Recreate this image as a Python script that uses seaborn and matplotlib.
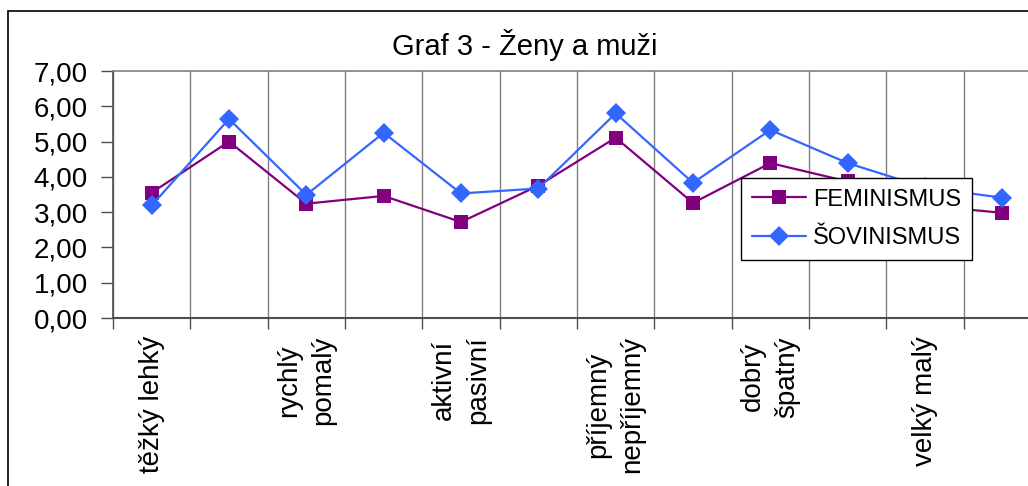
import numpy as np
import pandas as pd
import matplotlib
matplotlib.use('Agg')
import matplotlib.pyplot as plt
import matplotlib.ticker as mticker
from matplotlib.patches import Rectangle
import seaborn as sns

# hodnoty
kategorie = ['těžký lehký', '', 'rychlý\npomalý', '', 'aktivní\npasivní', '',
             'příjemný\nnepříjemný', '', 'dobrý\nšpatný', '', 'velký malý', '']
feminismus = [3.55, 5.00, 3.24, 3.46, 2.72, 3.75, 5.11, 3.26, 4.39, 3.87, 3.19, 2.98]
sovinismus = [3.19, 5.64, 3.49, 5.25, 3.53, 3.67, 5.80, 3.83, 5.33, 4.39, 3.70, 3.41]
y_ticks = [0, 1, 2, 3, 4, 5, 6, 7]

sns.set_style('white')
plt.rcParams['font.family'] = ['Liberation Sans', 'DejaVu Sans']
plt.rcParams['text.color'] = 'black'
plt.rcParams['xtick.labelcolor'] = 'black'
plt.rcParams['ytick.labelcolor'] = 'black'

pozice = np.arange(len(kategorie))
df = pd.DataFrame({'pozice': pozice, 'FEMINISMUS': feminismus, 'ŠOVINISMUS': sovinismus})

fig = plt.figure(figsize=(10.28, 4.86), dpi=100)
ax = fig.add_axes([113 / 1028, 1 - 318 / 486, 928 / 1028, 247 / 486])

sns.lineplot(data=df, x='pozice', y='FEMINISMUS', ax=ax, color='#800080', marker='s',
             markersize=10.5, markeredgewidth=0, linewidth=1.6, label='FEMINISMUS')
sns.lineplot(data=df, x='pozice', y='ŠOVINISMUS', ax=ax, color='#3366FF', marker='D',
             markersize=10, markeredgewidth=0, linewidth=1.6, label='ŠOVINISMUS')

ax.set_xlim(-0.5, len(kategorie) - 0.5)
ax.set_ylim(0, 7)
ax.set_xlabel('')
ax.set_ylabel('')

# hranice kategorií = hlavní značky + svislá mřížka
ax.xaxis.set_major_locator(mticker.FixedLocator(np.arange(-0.5, len(kategorie), 1.0)))
ax.xaxis.set_major_formatter(mticker.NullFormatter())
ax.xaxis.set_minor_locator(mticker.FixedLocator(pozice))
ax.xaxis.set_minor_formatter(mticker.FixedFormatter(kategorie))
ax.tick_params(axis='x', which='major', direction='out', length=8, width=1, color='#4d4d4d', bottom=True)
ax.tick_params(axis='x', which='minor', length=0, pad=13, labelsize=20, labelrotation=90,
               bottom=True, labelcolor='black')
for t in ax.get_xticklabels(minor=True):
    t.set_linespacing(1.4)
    t.set_multialignment('center')

ax.yaxis.set_major_locator(mticker.FixedLocator(y_ticks))
ax.yaxis.set_major_formatter(mticker.FuncFormatter(lambda v, p: f'{v:.2f}'.replace('.', ',')))
ax.tick_params(axis='y', direction='out', length=9, width=1, color='#4d4d4d', pad=9,
               labelsize=20, left=True, labelcolor='black')

ax.grid(False)
ax.xaxis.grid(True, which='major', color='#808080', linewidth=1)
ax.spines['top'].set_color('#808080')
ax.spines['top'].set_linewidth(1.2)
ax.spines['right'].set_visible(False)
ax.spines['left'].set_color('#4d4d4d')
ax.spines['bottom'].set_color('#4d4d4d')
ax.spines['left'].set_linewidth(1.2)
ax.spines['bottom'].set_linewidth(1.5)

leg = ax.legend(loc='upper left', bbox_to_anchor=(0.677, 0.567), fontsize=17, frameon=True,
                fancybox=False, framealpha=1, edgecolor='black', borderpad=0.45,
                handlelength=2.3, handletextpad=0.3, labelspacing=0.7, borderaxespad=0)
leg.get_frame().set_linewidth(1)
for t in leg.get_texts():
    t.set_color('black')

fig.text(525 / 1028, 1 - 55 / 486, 'Graf 3 - Ženy a muži', ha='center', va='baseline',
         fontsize=21, color='black')

# rámeček celého grafu
fig.patches.append(Rectangle((8 / 1028, -0.1), 1.1, 1 - 11 / 486 + 0.1, transform=fig.transFigure,
                             fill=False, edgecolor='black', linewidth=1.2))

fig.savefig('out.png', dpi=100)
